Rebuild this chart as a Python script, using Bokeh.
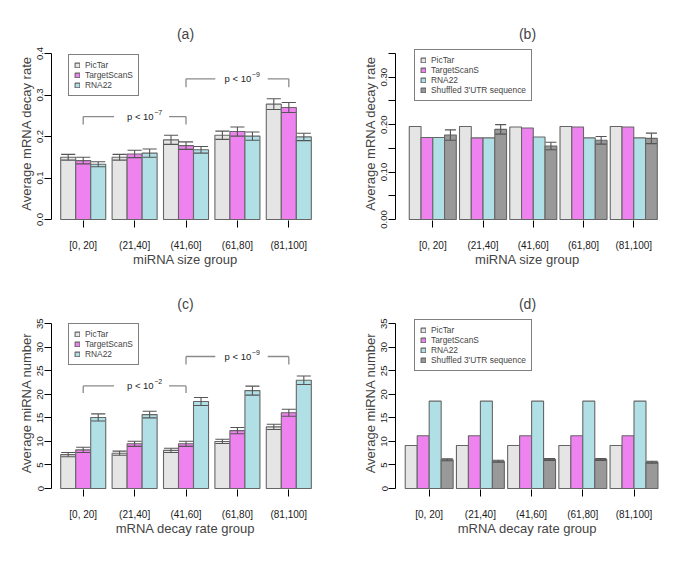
from bokeh.plotting import figure
from bokeh.models import Range1d, FixedTicker, Legend, LegendItem, NumeralTickFormatter
from bokeh.layouts import gridplot
from bokeh.embed import file_html
from bokeh.resources import INLINE
from bokeh.core.properties import value

# ---------------- data ----------------
groups = ["[0, 20]", "(21,40]", "(41,60]", "(61,80]", "(81,100]"]
series = ["PicTar", "TargetScanS", "RNA22", "Shuffled 3'UTR sequence"]
colors = ["#e5e5e5", "#ee82ee", "#b0e0e6", "#999999"]

# (a) average mRNA decay rate by miRNA size group
a_pictar = [0.150, 0.150, 0.192, 0.203, 0.278]
a_pictar_err = [0.007, 0.007, 0.011, 0.010, 0.013]
a_ts = [0.142, 0.158, 0.178, 0.212, 0.270]
a_ts_err = [0.008, 0.009, 0.009, 0.011, 0.012]
a_rna22 = [0.133, 0.160, 0.168, 0.201, 0.199]
a_rna22_err = [0.006, 0.010, 0.008, 0.010, 0.009]

# (b) average mRNA decay rate, with shuffled control
b_pictar = [0.196, 0.196, 0.195, 0.196, 0.196]
b_ts = [0.173, 0.172, 0.193, 0.195, 0.195]
b_rna22 = [0.173, 0.172, 0.174, 0.172, 0.172]
b_shuf = [0.178, 0.190, 0.155, 0.167, 0.171]
b_shuf_err = [0.011, 0.010, 0.008, 0.008, 0.011]

# (c) average miRNA number by mRNA decay rate group
c_pictar = [7.2, 7.5, 8.1, 10.0, 13.1]
c_pictar_err = [0.45, 0.45, 0.45, 0.45, 0.55]
c_ts = [8.2, 9.5, 9.5, 12.3, 16.1]
c_ts_err = [0.55, 0.55, 0.55, 0.65, 0.75]
c_rna22 = [15.1, 15.7, 18.5, 20.8, 23.0]
c_rna22_err = [0.75, 0.70, 0.85, 0.95, 0.90]

# (d) average miRNA number, with shuffled control
d_pictar = [9.14, 9.14, 9.14, 9.14, 9.14]
d_ts = [11.2, 11.2, 11.2, 11.2, 11.2]
d_rna22 = [18.56, 18.56, 18.56, 18.56, 18.56]
d_shuf = [6.1, 5.8, 6.15, 6.15, 5.6]
d_shuf_err = [0.2, 0.2, 0.2, 0.2, 0.2]

# significance brackets: (from group, to group, level, drop level, gap start, gap end, label anchor, exponent)
a_brackets = [(1, 3, 0.248, 0.229, 1.60, 2.67, 2.37, "\u22127"),
              (3, 5, 0.339, 0.319, 3.57, 4.59, 4.27, "\u22129")]
c_brackets = [(1, 3, 21.8, 20.3, 1.60, 2.67, 2.37, "\u22122"),
              (3, 5, 28.05, 26.35, 3.57, 4.59, 4.27, "\u22129")]

FONT = "Liberation Sans"


def make_panel(title, ylabel, xlabel, vals, errs, bar_w, xr, yr, yticks, yminor, yfmt, ybound,
               size, borders, title_standoff, legend_loc, brackets=None):
    bl, br, bt, bb = borders
    p = figure(width=size[0], height=size[1], output_backend="svg", toolbar_location=None,
               x_range=Range1d(*xr), y_range=Range1d(*yr),
               min_border_left=bl, min_border_right=br, min_border_top=bt, min_border_bottom=bb)
    p.outline_line_color = None
    p.xgrid.visible = False
    p.ygrid.visible = False

    p.title.text = title
    p.title.align = "center"
    p.title.text_font = FONT
    p.title.text_font_size = "14px"
    p.title.text_font_style = "normal"
    p.title.standoff = title_standoff

    n = len(vals)
    xs_center = list(range(1, len(groups) + 1))
    items = []
    for k in range(n):
        off = (k - (n - 1) / 2.0) * bar_w
        xs = [c + off for c in xs_center]
        r = p.vbar(x=xs, top=vals[k], bottom=0, width=bar_w, fill_color=colors[k],
                   line_color="#666666", line_width=1.1)
        items.append(LegendItem(label=series[k], renderers=[r]))
        if errs[k] is not None:
            lo = [v - e for v, e in zip(vals[k], errs[k])]
            hi = [v + e for v, e in zip(vals[k], errs[k])]
            cw = bar_w * 0.47
            p.segment(x0=xs, x1=xs, y0=lo, y1=hi, line_color="#555555", line_width=1.1)
            p.segment(x0=[x - cw for x in xs], x1=[x + cw for x in xs], y0=hi, y1=hi,
                      line_color="#555555", line_width=1.1)
            p.segment(x0=[x - cw for x in xs], x1=[x + cw for x in xs], y0=lo, y1=lo,
                      line_color="#555555", line_width=1.1)

    if brackets:
        for (g0, g1, lev, drop, gs, ge, anchor, expo) in brackets:
            p.segment(x0=[g0, ge, g0, g1], x1=[gs, g1, g0, g1], y0=[lev, lev, lev, lev],
                      y1=[lev, lev, drop, drop], line_color="#8a8a8a", line_width=1.3)
            p.text(x=[anchor], y=[lev], text=["p < 10"], text_align="right", text_baseline="middle",
                   text_font=value(FONT), text_font_size="9.5px", text_color="#222222")
            p.text(x=[anchor], y=[lev], text=[expo], text_align="left", text_baseline="middle",
                   y_offset=-4, x_offset=0.5,
                   text_font=value(FONT), text_font_size="7px", text_color="#222222")

    # x axis
    xa = p.xaxis[0]
    xa.ticker = FixedTicker(ticks=xs_center)
    xa.major_label_overrides = {c: g for c, g in zip(xs_center, groups)}
    xa.axis_line_color = None
    xa.major_tick_in = 0
    xa.major_tick_out = 7
    xa.minor_tick_line_color = None
    xa.major_tick_line_color = "black"
    xa.major_label_standoff = 12
    xa.major_label_text_font = FONT
    xa.major_label_text_font_size = "10px"
    xa.major_label_text_color = "#1a1a1a"
    xa.axis_label = xlabel
    xa.axis_label_text_font = FONT
    xa.axis_label_text_font_size = "13px"
    xa.axis_label_text_font_style = "normal"
    xa.axis_label_standoff = -2

    # y axis
    ya = p.yaxis[0]
    ya.ticker = FixedTicker(ticks=yticks, minor_ticks=yminor)
    ya.formatter = NumeralTickFormatter(format=yfmt)
    ya.bounds = ybound
    ya.axis_line_color = "black"
    ya.major_tick_in = 0
    ya.major_tick_out = 7
    ya.minor_tick_in = 0
    ya.minor_tick_out = 7
    ya.minor_tick_line_color = "black"
    ya.major_label_orientation = "vertical"
    ya.major_label_standoff = 1
    ya.major_label_text_font = FONT
    ya.major_label_text_font_size = "9.5px"
    ya.major_label_text_color = "#1a1a1a"
    ya.axis_label = ylabel
    ya.axis_label_text_font = FONT
    ya.axis_label_text_font_size = "13px"
    ya.axis_label_text_font_style = "normal"
    ya.axis_label_standoff = 1

    leg = Legend(items=items, location=legend_loc, padding=5, spacing=0, label_standoff=5,
                 glyph_width=6, glyph_height=6, label_height=8, label_text_font=FONT,
                 label_text_font_size="8.4px", border_line_color="black", border_line_width=1,
                 background_fill_color="white", background_fill_alpha=1.0, margin=0)
    p.add_layout(leg)
    return p


pa = make_panel("(a)", "Average mRNA decay rate", "miRNA size group",
                [a_pictar, a_ts, a_rna22], [a_pictar_err, a_ts_err, a_rna22_err],
                0.292, (0.383, 5.597), (-0.0024, 0.4169),
                [0, 0.1, 0.2, 0.3, 0.4], [], "0.0", (0, 0.4),
                (334, 284), (51, 15, 46, 64), 9, (17, 124), a_brackets)

pb = make_panel("(b)", "Average mRNA decay rate", "miRNA size group",
                [b_pictar, b_ts, b_rna22, b_shuf], [None, None, None, b_shuf_err],
                0.234, (0.258, 5.512), (-0.0021, 0.3647),
                [0, 0.1, 0.2, 0.3], [0.05, 0.15, 0.25, 0.35], "0.00", (0, 0.35),
                (334, 284), (57, 8, 46, 64), 9, (19, 119))

pc = make_panel("(c)", "Average miRNA number", "mRNA decay rate group",
                [c_pictar, c_ts, c_rna22], [c_pictar_err, c_ts_err, c_rna22_err],
                0.292, (0.383, 5.597), (-0.2125, 36.55),
                [0, 5, 10, 15, 20, 25, 30, 35], [], "0", (0, 35),
                (334, 286), (51, 15, 32, 81), 10, (17, 124), c_brackets)

pd_ = make_panel("(d)", "Average miRNA number", "mRNA decay rate group",
                 [d_pictar, d_ts, d_rna22, d_shuf], [None, None, None, d_shuf_err],
                 0.234, (0.342, 5.498), (-0.2125, 36.55),
                 [0, 5, 10, 15, 20, 25, 30, 35], [], "0", (0, 35),
                 (334, 286), (61, 9, 32, 81), 10, (19, 118))

grid = gridplot([[pa, pb], [pc, pd_]], toolbar_location=None)
open("out.html", "w").write(file_html(grid, INLINE))
